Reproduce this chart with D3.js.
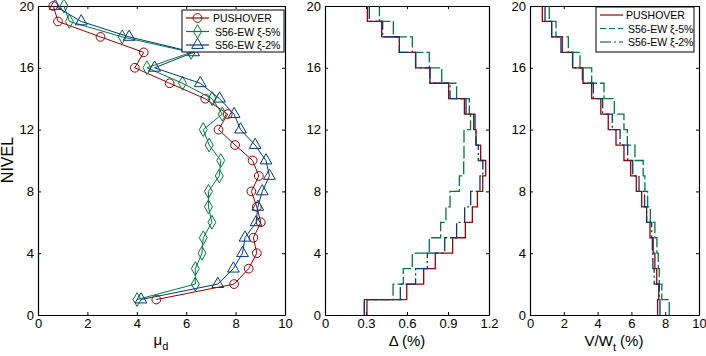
<!DOCTYPE html>
<html>
<head>
<meta charset="utf-8">
<script src="https://cdn.jsdelivr.net/npm/d3@7"></script>
<style>
  body { margin: 0; background: #fff; }
  svg { display: block; font-family: "Liberation Sans", Arial, sans-serif; }
  .tick text { font-size: 13px; fill: #000; }
  .domain { stroke: #000; }
  .tick line { stroke: #000; }
</style>
</head>
<body>
<div id="chart"></div>
<script>
// floor levels 1..20 (bottom to top)
let levels = d3.range(1, 21);

// ductility demand per floor
let muPushover = [4.79, 7.94, 8.53, 8.86, 8.72, 9.02, 8.86, 8.64, 8.94, 8.69, 7.98, 7.31, 7.68, 6.77, 5.33, 3.92, 4.28, 2.53, 0.81, 0.62];
let muS56x5 = [4.01, 6.37, 6.37, 6.64, 6.69, 7.04, 6.90, 6.90, 7.34, 7.40, 6.93, 6.69, 7.46, 7.05, 5.85, 4.41, 6.20, 3.41, 1.27, 1.05];
let muS56x2 = [4.17, 7.28, 7.91, 8.28, 8.38, 8.83, 8.90, 9.08, 9.37, 9.23, 8.79, 8.20, 7.94, 7.35, 6.57, 4.72, 6.30, 3.69, 1.75, 0.69];

// interstory drift (%) per story
let driftPushover = [0.307, 0.598, 0.722, 0.807, 0.934, 1.027, 1.078, 1.115, 1.154, 1.176, 1.139, 1.105, 1.088, 1.020, 0.905, 0.768, 0.663, 0.544, 0.415, 0.310];
let driftS56x5 = [0.288, 0.498, 0.573, 0.639, 0.763, 0.846, 0.885, 0.915, 0.983, 1.015, 1.017, 1.017, 1.065, 1.056, 0.963, 0.854, 0.763, 0.639, 0.500, 0.398];
let driftS56x2 = [0.288, 0.551, 0.663, 0.749, 0.876, 0.963, 1.022, 1.066, 1.134, 1.155, 1.122, 1.105, 1.098, 1.032, 0.915, 0.768, 0.663, 0.544, 0.422, 0.324];

// story shear V/Wt (%)
let shearPushover = [7.55, 7.62, 7.50, 7.39, 7.29, 7.10, 6.90, 6.61, 6.29, 5.96, 5.56, 5.09, 4.63, 4.19, 3.65, 3.14, 2.52, 1.91, 1.28, 0.73];
let shearS56x5 = [8.24, 7.80, 7.65, 7.59, 7.51, 7.39, 7.12, 6.96, 6.80, 6.70, 6.21, 5.76, 5.56, 4.99, 4.38, 3.65, 2.96, 2.27, 1.54, 1.14];
let shearS56x2 = [7.69, 7.65, 7.35, 7.27, 7.24, 7.20, 6.90, 6.78, 6.45, 6.08, 5.78, 5.33, 4.87, 4.30, 3.75, 3.10, 2.52, 1.83, 1.28, 0.89];

let seriesNames = ["PUSHOVER", "S56-EW \u03BE-5%", "S56-EW \u03BE-2%"];
let yTicks = [0, 4, 8, 12, 16, 20];
let muTicks = [0, 2, 4, 6, 8, 10];
let driftTicks = [0, 0.3, 0.6, 0.9, 1.2];
let shearTicks = [0, 2, 4, 6, 8, 10];

let colors = ["#990000", "#007a3a", "#003a78"];
let dashes = [null, "13,3", "16,3,2,3"];

let svgWidth = 706;
let svgHeight = 356;
let plotTop = 6, plotBottom = 315;

let svg = d3.select("#chart")
  .append("svg")
  .attr("width", svgWidth)
  .attr("height", svgHeight);

let yScale = d3.scaleLinear().domain([0, 20]).range([plotBottom, plotTop]);

// draws one framed panel with inward ticks on all sides
function drawPanel(x0, x1, xDomain, xTicks, fmt) {
  let xScale = d3.scaleLinear().domain(xDomain).range([x0, x1]);
  let g = svg.append("g");

  g.append("g")
    .attr("transform", `translate(0,${plotBottom})`)
    .call(d3.axisBottom(xScale).tickValues(xTicks).tickFormat(fmt).tickSizeInner(-3).tickSizeOuter(0).tickPadding(4));
  g.append("g")
    .attr("transform", `translate(0,${plotTop})`)
    .call(d3.axisTop(xScale).tickValues(xTicks).tickFormat("").tickSizeInner(-3).tickSizeOuter(0));
  g.append("g")
    .attr("transform", `translate(${x0},0)`)
    .call(d3.axisLeft(yScale).tickValues(yTicks).tickSizeInner(-3).tickSizeOuter(0).tickPadding(4));
  g.append("g")
    .attr("transform", `translate(${x1},0)`)
    .call(d3.axisRight(yScale).tickValues(yTicks).tickFormat("").tickSizeInner(-3).tickSizeOuter(0));

  g.selectAll(".domain").attr("stroke-width", 1.2);
  return xScale;
}

// left panel: ductility
let xMu = drawPanel(38, 285, [0, 10], muTicks, d3.format("d"));

let muSeries = [muPushover, muS56x5, muS56x2];
let lineMu = d3.line()
  .x(d => xMu(d[0]))
  .y(d => yScale(d[1]));

let markerShapes = [d3.symbolCircle, d3.symbolDiamond, d3.symbolTriangle];
let markerSizes = [60, 55, 60];

muSeries.forEach((vals, i) => {
  let pts = vals.map((v, k) => [v, levels[k]]);
  svg.append("path")
    .datum(pts)
    .attr("d", lineMu)
    .attr("fill", "none")
    .attr("stroke", colors[i])
    .attr("stroke-width", 1);
  svg.append("g").selectAll("path")
    .data(pts)
    .enter()
    .append("path")
    .attr("transform", d => `translate(${xMu(d[0])},${yScale(d[1])})`)
    .attr("d", d3.symbol().type(markerShapes[i]).size(markerSizes[i]))
    .attr("fill", "none")
    .attr("stroke", colors[i])
    .attr("stroke-width", 1);
});

// stairs path: vertical per story, horizontal at each floor
function stairPoints(vals) {
  let pts = [];
  vals.forEach((v, k) => {
    pts.push([v, k]);
    pts.push([v, k + 1]);
  });
  return pts;
}

// middle panel: drift
let xDrift = drawPanel(325, 489, [0, 1.2], driftTicks, d => d === 0 ? "0" : d3.format(".1f")(d));
let driftSeries = [driftPushover, driftS56x5, driftS56x2];
let drawOrder = [1, 0, 2];
drawOrder.forEach(i => {
  svg.append("path")
    .datum(stairPoints(driftSeries[i]))
    .attr("d", d3.line().x(d => xDrift(d[0])).y(d => yScale(d[1])))
    .attr("fill", "none")
    .attr("stroke", colors[i])
    .attr("stroke-width", 1.3)
    .attr("stroke-dasharray", dashes[i]);
});

// right panel: shear
let xShear = drawPanel(530, 699, [0, 10], shearTicks, d3.format("d"));
let shearSeries = [shearPushover, shearS56x5, shearS56x2];
drawOrder.forEach(i => {
  svg.append("path")
    .datum(stairPoints(shearSeries[i]))
    .attr("d", d3.line().x(d => xShear(d[0])).y(d => yScale(d[1])))
    .attr("fill", "none")
    .attr("stroke", colors[i])
    .attr("stroke-width", 1.3)
    .attr("stroke-dasharray", dashes[i]);
});

// legends
function drawLegend(x, y, w, h, withMarkers, textX) {
  let lg = svg.append("g").attr("transform", `translate(${x},${y})`);
  lg.append("rect")
    .attr("width", w)
    .attr("height", h)
    .attr("fill", "#fff")
    .attr("stroke", "#000")
    .attr("stroke-width", 1);
  seriesNames.forEach((name, i) => {
    let yy = 8 + i * 13.5;
    lg.append("line")
      .attr("x1", 4).attr("x2", 27)
      .attr("y1", yy).attr("y2", yy)
      .attr("stroke", colors[i])
      .attr("stroke-width", 1.2)
      .attr("stroke-dasharray", withMarkers ? null : (i === 2 ? "11,3,2,3" : dashes[i] && "6,3"));
    if (withMarkers) {
      lg.append("path")
        .attr("transform", `translate(15.5,${yy})`)
        .attr("d", d3.symbol().type(markerShapes[i]).size(markerSizes[i]))
        .attr("fill", "none")
        .attr("stroke", colors[i]);
    }
    lg.append("text")
      .attr("x", i === 0 ? textX : textX + 2)
      .attr("y", yy + 4)
      .attr("font-size", 10.5)
      .attr("fill", "#000")
      .text(name);
  });
}
drawLegend(182, 10, 102, 42, true, 31);
drawLegend(596, 7, 98, 45, false, 30);

// axis labels
svg.append("text")
  .attr("transform", "translate(13,160) rotate(-90)")
  .attr("text-anchor", "middle")
  .attr("font-size", 16)
  .text("NIVEL");

let muLabel = svg.append("text")
  .attr("x", 161)
  .attr("y", 345)
  .attr("text-anchor", "middle")
  .attr("font-size", 15);
muLabel.append("tspan").text("\u03BC");
muLabel.append("tspan").attr("font-size", 11).attr("dy", 5).text("d");

svg.append("text")
  .attr("x", 407)
  .attr("y", 346)
  .attr("text-anchor", "middle")
  .attr("font-size", 15)
  .text("\u0394 (%)");

let shearLabel = svg.append("text")
  .attr("x", 614)
  .attr("y", 346)
  .attr("text-anchor", "middle")
  .attr("font-size", 15);
shearLabel.append("tspan").text("V/W");
shearLabel.append("tspan").attr("font-size", 11).attr("dy", 5).text("t");
shearLabel.append("tspan").attr("dy", -5).text(" (%)");
</script>
</body>
</html>
